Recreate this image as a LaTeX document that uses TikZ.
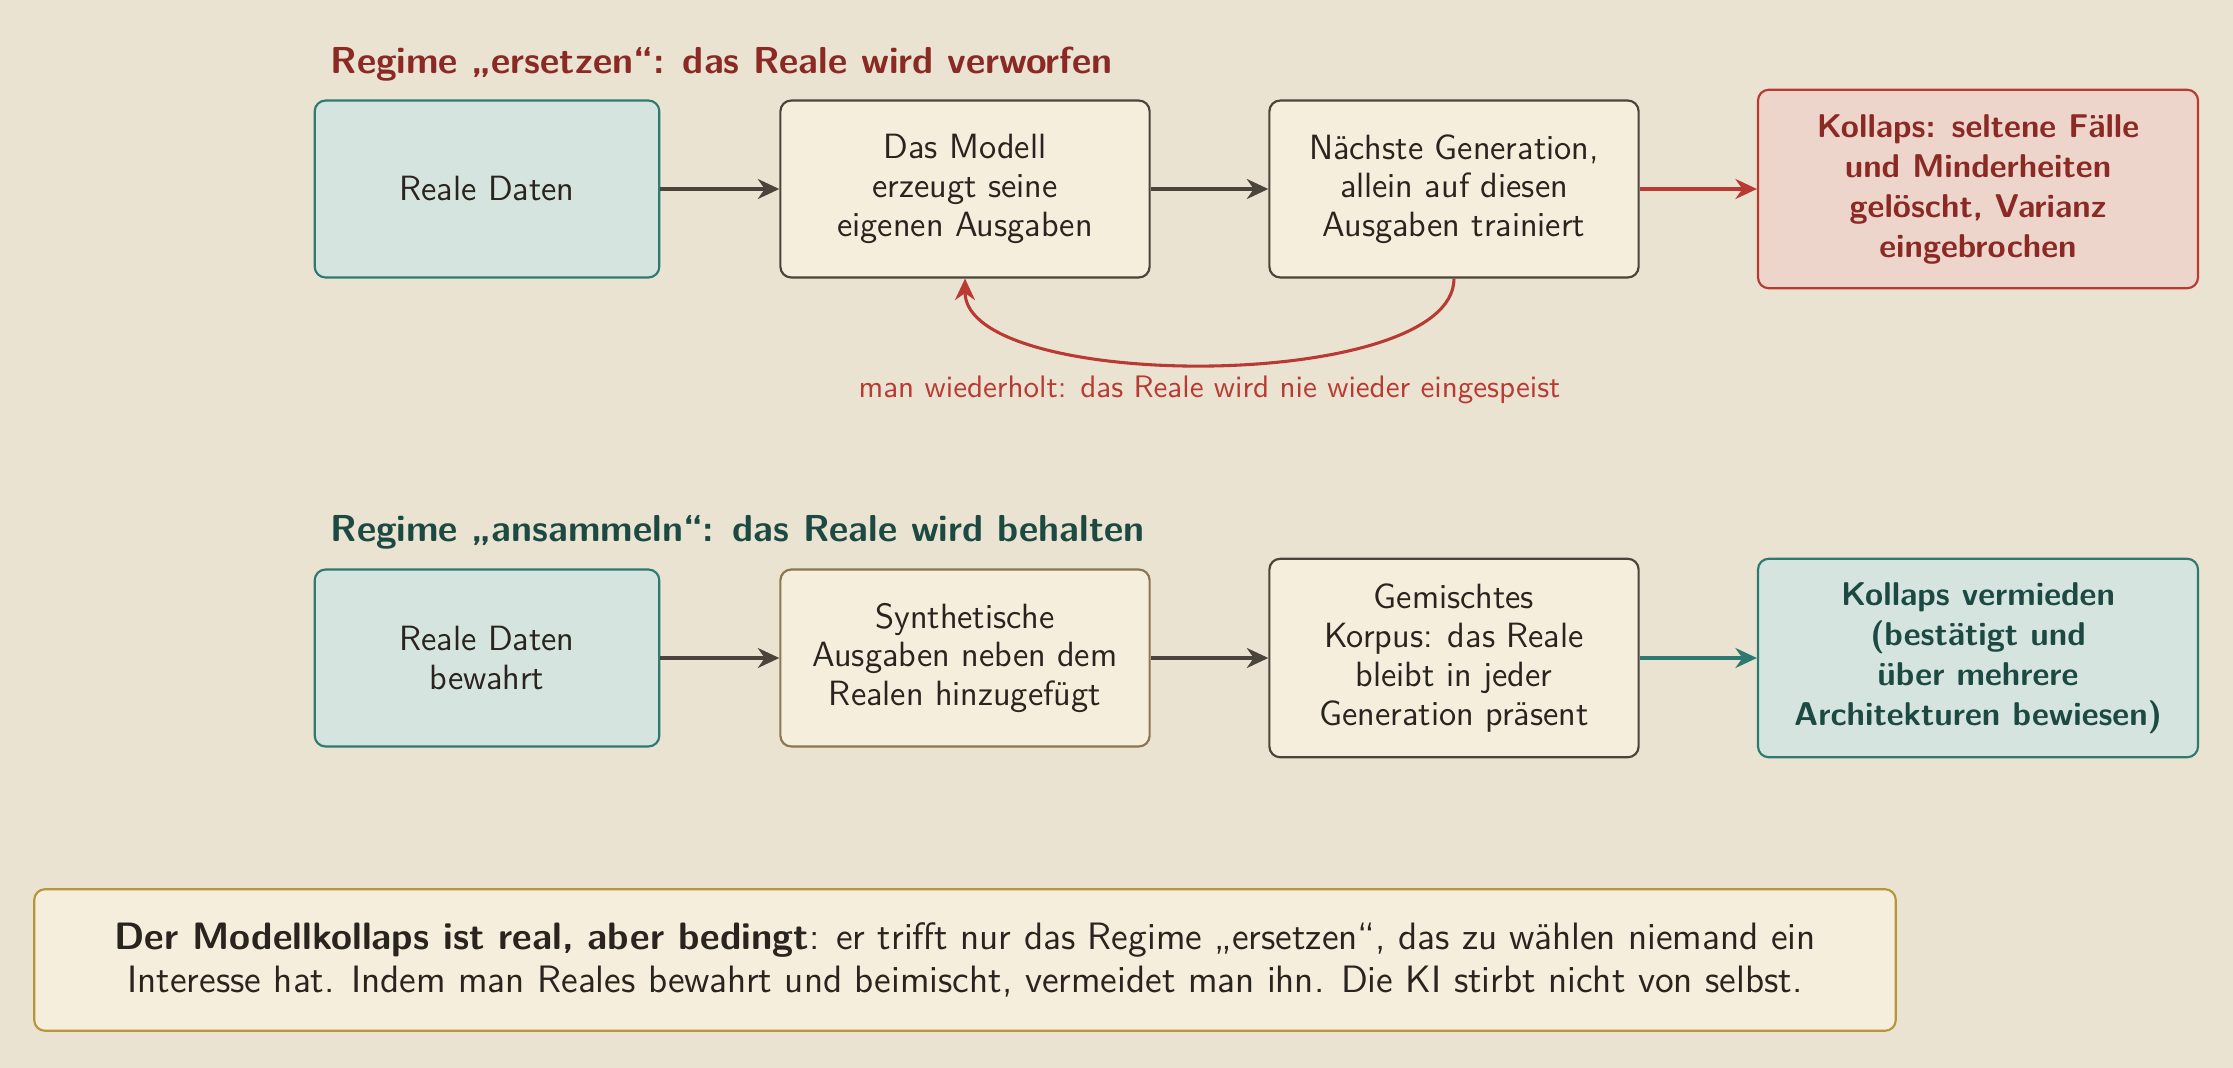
\documentclass[tikz,border=0pt]{standalone}
\usepackage{fontspec}
\usetikzlibrary{arrows.meta}
\definecolor{bgcol}{RGB}{235,227,210}
\definecolor{creamfill}{RGB}{245,238,220}
\definecolor{tealfill}{RGB}{213,228,222}
\definecolor{tealline}{RGB}{46,122,112}
\definecolor{tealtext}{RGB}{28,74,66}
\definecolor{pinkfill}{RGB}{237,213,204}
\definecolor{redline}{RGB}{184,58,50}
\definecolor{redtext}{RGB}{139,42,36}
\definecolor{darkline}{RGB}{74,68,58}
\definecolor{synline}{RGB}{139,118,80}
\definecolor{goldline}{RGB}{184,148,62}
\definecolor{inktext}{RGB}{42,36,30}
\begin{document}
\begin{tikzpicture}[x=0.325pt,y=-0.325pt,font=\sffamily,
    box/.style={draw,rounded corners=3.5pt,line width=0.7pt,align=center,inner sep=2pt,text=inktext,
      font=\fontsize{11.4}{12.6}\selectfont\sffamily},
    realbox/.style={box,fill=tealfill,draw=tealline,minimum width=112pt,minimum height=57.5pt},
    stepbox/.style={box,fill=creamfill,draw=darkline,minimum width=120pt,minimum height=57.5pt},
    badbox/.style={box,fill=pinkfill,draw=redline,text=redtext,font=\fontsize{10.7}{13}\selectfont\sffamily\bfseries,minimum width=143pt,minimum height=64.5pt},
    goodbox/.style={box,fill=tealfill,draw=tealline,text=tealtext,font=\fontsize{10.7}{13}\selectfont\sffamily\bfseries,minimum width=143pt,minimum height=64.5pt},
    flow/.style={-{Stealth[length=7pt,width=6.5pt]},line width=1pt,darkline},
    regime/.style={anchor=base west,inner sep=0pt,font=\fontsize{12.2}{14}\selectfont\sffamily\bfseries}]
  \fill[bgcol] (0,0) rectangle (2233,1068);
  \useasboundingbox (0,0) rectangle (2233,1068);
  % regime ersetzen
  \node[regime,text=redtext] (titleA) at (330,74) {Regime „ersetzen“: das Reale wird verworfen};
  \node[realbox] (ra) at (487,189) {Reale Daten};
  \node[stepbox] (rb) at (965,189) {Das Modell\\erzeugt seine\\eigenen Ausgaben};
  \node[stepbox] (rc) at (1454,189) {Nächste Generation,\\allein auf diesen\\Ausgaben trainiert};
  \node[badbox] (rd) at (1978,189) {Kollaps: seltene Fälle\\und Minderheiten\\gelöscht, Varianz\\eingebrochen};
  \draw[flow] (ra) -- (rb);
  \draw[flow] (rb) -- (rc);
  \draw[flow,redline] (rc) -- (rd);
  \draw[flow,redline] (rc.south) to[out=-90,in=-90,looseness=0.6]
    node[below,font=\fontsize{10.1}{12}\selectfont\sffamily,text=redline] (loopnote) {man wiederholt: das Reale wird nie wieder eingespeist} (rb.south);
  % regime ansammeln
  \node[regime,text=tealtext] (titleB) at (330,541) {Regime „ansammeln“: das Reale wird behalten};
  \node[realbox] (ka) at (487,658) {Reale Daten\\bewahrt};
  \node[stepbox,draw=synline] (kb) at (965,658) {Synthetische\\Ausgaben neben dem\\Realen hinzugefügt};
  \node[stepbox,minimum height=64.5pt] (kc) at (1454,658) {Gemischtes\\Korpus: das Reale\\bleibt in jeder\\Generation präsent};
  \node[goodbox] (kd) at (1978,658) {Kollaps vermieden\\(bestätigt und\\über mehrere\\Architekturen bewiesen)};
  \draw[flow] (ka) -- (kb);
  \draw[flow] (kb) -- (kc);
  \draw[flow,tealline] (kc) -- (kd);
  % fazit
  \node[box,fill=creamfill,draw=goldline,minimum width=605pt,minimum height=46pt,font=\fontsize{12.4}{14}\selectfont\sffamily] (note) at (965,960)
    {\textbf{Der Modellkollaps ist real, aber bedingt}: er trifft nur das Regime „ersetzen“, das zu wählen niemand ein\\
     Interesse hat. Indem man Reales bewahrt und beimischt, vermeidet man ihn. Die KI stirbt nicht von selbst.};
\end{tikzpicture}
\end{document}
